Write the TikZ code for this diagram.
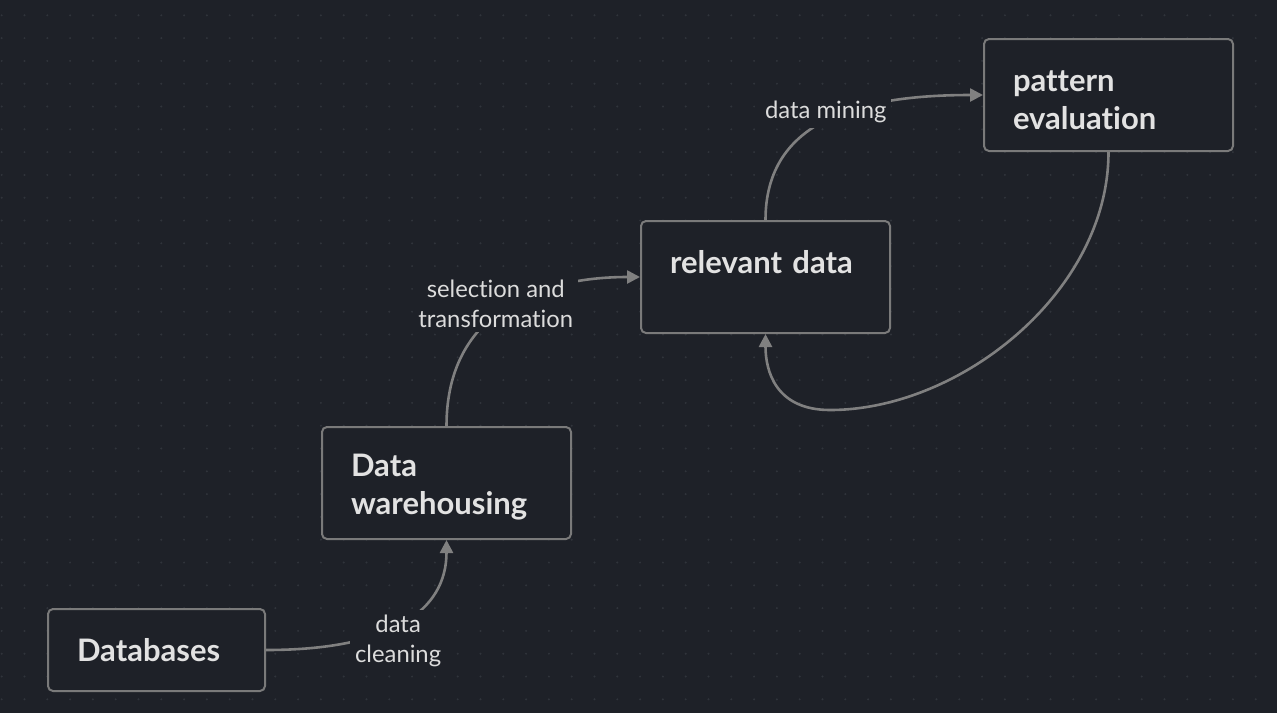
\documentclass[tikz,border=0pt]{standalone}
\usepackage{fontspec}
\setmainfont{Lato}[Ligatures={NoCommon}]
\usepackage{tikz}
\usetikzlibrary{positioning,arrows.meta,calc}
\definecolor{bg}{HTML}{1E2128}
\definecolor{griddot}{HTML}{30343B}
\definecolor{edge}{HTML}{808080}
\definecolor{boxline}{HTML}{7A7A7A}
\definecolor{titletext}{HTML}{E2E2E2}
\definecolor{labeltext}{HTML}{DCDCDC}
\newcommand\tstrut{\rule{0pt}{31pt}}

\begin{document}
\begin{tikzpicture}[x=1pt, y=-1pt,
    box/.style={draw=boxline, line width=2pt, rounded corners=5pt, fill=bg,
      text=titletext, align=left, inner xsep=29pt, inner ysep=0pt,
      text width=191pt, minimum width=249pt, minimum height=112pt,
      font=\fontsize{31}{38}\selectfont\bfseries},
    steplabel/.style={fill=bg, text=labeltext, align=center, inner sep=5pt,
      font=\fontsize{23.8}{30}\selectfont},
    flow/.style={draw=edge, line width=2.6pt, -{Triangle[length=13pt,width=13pt]}}]
  \fill[bg] (0,0) rectangle (1277,713);
  \useasboundingbox (0,0) rectangle (1277,713);
  \foreach \i in {0,...,55}
    \foreach \j in {0,...,30}
      \fill[griddot] (1.7+22.8*\i, 15.3+22.8*\j) circle (1.1);

  \node[box, text width=159pt, minimum width=217pt, minimum height=82pt] (db) at (156.5,650) {Databases};
  \node[box] (dw) at (446.5,483) {\tstrut Data\\warehousing};
  \node[box] (rd) at (765.5,277) {\tstrut relevant data\\\mbox{}};
  \node[box] (pe) at (1108.5,95) {\tstrut pattern\\evaluation};

  \draw[flow] (db.east) .. controls +(125,0) and +(0,71) .. (dw.south)
    node[steplabel, pos=0.5, xshift=-5pt, yshift=-19pt] {data\\cleaning};
  \draw[flow] (dw.north) .. controls +(0,-115) and +(-100,0) .. (rd.west)
    node[steplabel, pos=0.5, xshift=-10pt, yshift=5pt] {selection and\\transformation};
  \draw[flow] (rd.north) .. controls +(0,-100) and +(-124,0) .. (pe.west)
    node[steplabel, pos=0.5, xshift=-2pt, yshift=8pt] {data mining};
  \draw[flow] (pe.south) .. controls +(0,140) and +(130,0) .. (830,410)
    .. controls +(-55,0) and +(0,36) .. (rd.south);
\end{tikzpicture}
\end{document}
